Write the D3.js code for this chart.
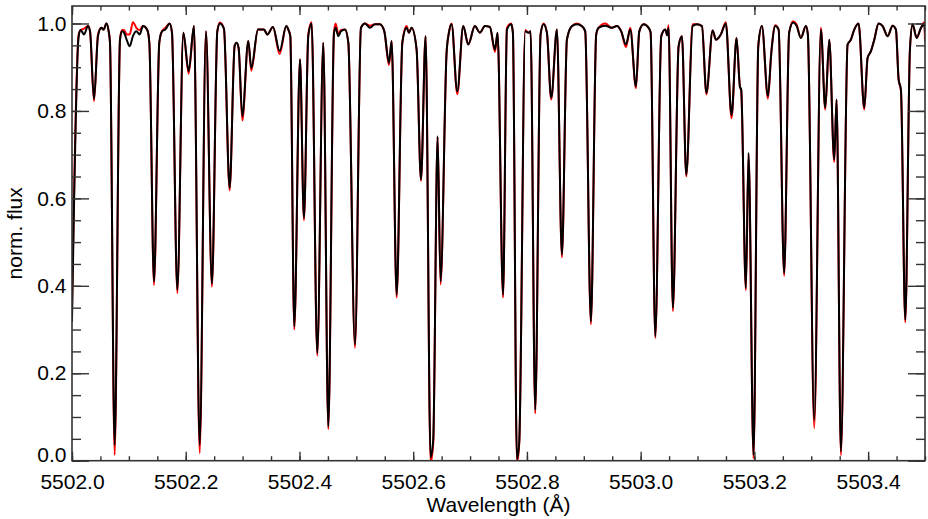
<!DOCTYPE html>
<html>
<head>
<meta charset="utf-8">
<script src="https://cdn.jsdelivr.net/npm/d3@7"></script>
<style>
  body { margin: 0; background: #fff; }
  svg { display: block; font-family: "Liberation Sans", Arial, Helvetica, sans-serif; }
</style>
</head>
<body>
<svg id="chart" width="928" height="519"></svg>
<script>
const wavelength = [
  5502.0000, 5502.0117, 5502.0152, 5502.0211, 5502.0281, 5502.0317, 5502.0387, 5502.0457, 5502.0516, 5502.0557,
  5502.0604, 5502.0645, 5502.0668, 5502.0750, 5502.0844, 5502.0879, 5502.0914, 5502.0961, 5502.1014, 5502.1072,
  5502.1131, 5502.1190, 5502.1248, 5502.1324, 5502.1360, 5502.1442, 5502.1535, 5502.1582, 5502.1641, 5502.1717,
  5502.1758, 5502.1852, 5502.1958, 5502.2051, 5502.2145, 5502.2245, 5502.2356, 5502.2461, 5502.2555, 5502.2602,
  5502.2672, 5502.2772, 5502.2860, 5502.2895, 5502.2930, 5502.2995, 5502.3100, 5502.3153, 5502.3270, 5502.3376,
  5502.3434, 5502.3534, 5502.3651, 5502.3768, 5502.3804, 5502.3839, 5502.3909, 5502.4009, 5502.4079, 5502.4155,
  5502.4214, 5502.4313, 5502.4419, 5502.4507, 5502.4607, 5502.4636, 5502.4683, 5502.4730, 5502.4800, 5502.4859,
  5502.4976, 5502.5081, 5502.5152, 5502.5240, 5502.5327, 5502.5415, 5502.5492, 5502.5574, 5502.5621, 5502.5709,
  5502.5809, 5502.5884, 5502.5925, 5502.5972, 5502.6060, 5502.6137, 5502.6218, 5502.6306, 5502.6352, 5502.6429,
  5502.6481, 5502.6587, 5502.6628, 5502.6675, 5502.6775, 5502.6880, 5502.6968, 5502.7085, 5502.7173, 5502.7261,
  5502.7349, 5502.7437, 5502.7484, 5502.7580, 5502.7648, 5502.7724, 5502.7753, 5502.7824, 5502.7865, 5502.7970,
  5502.8029, 5502.8064, 5502.8146, 5502.8240, 5502.8293, 5502.8351, 5502.8427, 5502.8527, 5502.8615, 5502.8703,
  5502.8791, 5502.8879, 5502.8966, 5502.9025, 5502.9125, 5502.9218, 5502.9259, 5502.9377, 5502.9494, 5502.9582,
  5502.9658, 5502.9741, 5502.9817, 5502.9917, 5502.9976, 5503.0052, 5503.0140, 5503.0175, 5503.0257, 5503.0362,
  5503.0433, 5503.0468, 5503.0491, 5503.0567, 5503.0667, 5503.0726, 5503.0802, 5503.0913, 5503.0990, 5503.1078,
  5503.1156, 5503.1265, 5503.1324, 5503.1410, 5503.1498, 5503.1598, 5503.1686, 5503.1745, 5503.1768, 5503.1850,
  5503.1897, 5503.1985, 5503.2068, 5503.2132, 5503.2238, 5503.2297, 5503.2367, 5503.2426, 5503.2523, 5503.2611,
  5503.2682, 5503.2741, 5503.2817, 5503.2905, 5503.2940, 5503.3052, 5503.3169, 5503.3246, 5503.3316, 5503.3404,
  5503.3445, 5503.3521, 5503.3639, 5503.3697, 5503.3756, 5503.3832, 5503.3932, 5503.3990, 5503.4049, 5503.4108,
  5503.4184, 5503.4255, 5503.4343, 5503.4431, 5503.4489, 5503.4536, 5503.4577, 5503.4653, 5503.4735, 5503.4782,
  5503.4853, 5503.4929, 5503.4988, 5503.5000
];

// observed spectrum (black)
const fluxObs = [
  0.318, 0.970, 0.985, 0.975, 0.994, 0.982, 0.827, 0.971, 0.990, 0.986,
  1.000, 0.982, 0.956, 0.036, 0.963, 0.982, 0.979, 0.963, 0.948, 0.971,
  0.982, 0.975, 0.994, 0.985, 0.956, 0.410, 0.956, 0.982, 0.986, 1.000,
  0.979, 0.391, 0.979, 0.891, 0.994, 0.036, 0.982, 0.405, 0.982, 1.000,
  0.988, 0.624, 0.948, 0.956, 0.944, 0.788, 0.960, 0.898, 0.986, 0.986,
  0.975, 0.992, 0.937, 0.994, 0.986, 0.971, 0.307, 0.918, 0.555, 0.971,
  1.000, 0.246, 0.956, 0.078, 0.979, 0.990, 0.971, 0.982, 0.986, 0.956,
  0.265, 0.990, 1.000, 0.990, 0.998, 0.998, 0.982, 0.910, 0.960, 0.379,
  0.956, 0.990, 0.979, 0.990, 0.940, 0.643, 0.971, 0.008, 0.047, 0.742,
  0.410, 0.933, 0.979, 0.998, 0.845, 0.994, 0.952, 0.994, 0.979, 0.994,
  0.992, 0.940, 0.979, 0.379, 0.986, 0.998, 0.979, 0.004, 0.044, 0.982,
  0.979, 0.982, 0.116, 0.975, 0.998, 0.979, 0.830, 0.986, 0.471, 0.963,
  0.994, 0.998, 0.994, 0.982, 0.318, 0.975, 0.990, 0.995, 0.990, 0.994,
  0.982, 0.952, 0.986, 0.856, 0.982, 0.998, 0.990, 0.979, 0.284, 0.971,
  0.986, 0.973, 0.990, 0.349, 0.948, 0.971, 0.654, 0.994, 0.998, 0.994,
  0.841, 0.984, 0.963, 0.975, 1.000, 0.790, 0.967, 0.856, 0.849, 0.395,
  0.704, 0.013, 0.948, 0.994, 0.834, 0.933, 0.994, 0.986, 0.429, 0.979,
  1.002, 0.995, 0.967, 0.994, 0.975, 0.093, 0.986, 0.807, 0.963, 0.689,
  0.826, 0.021, 0.952, 0.963, 0.986, 1.000, 0.807, 0.921, 0.937, 0.963,
  1.000, 0.994, 0.971, 0.995, 0.986, 0.872, 0.849, 0.322, 0.940, 0.998,
  0.967, 0.990, 0.998, 0.979
];

// synthetic spectrum (red)
const fluxModel = [
  0.345, 0.975, 0.985, 0.988, 0.994, 0.982, 0.822, 0.975, 0.990, 0.986,
  1.000, 0.982, 0.956, 0.013, 0.963, 0.985, 0.985, 0.975, 0.975, 1.003,
  0.990, 0.985, 0.994, 0.985, 0.956, 0.402, 0.956, 0.982, 0.990, 1.000,
  0.979, 0.383, 0.979, 0.885, 0.994, 0.017, 0.982, 0.398, 0.982, 1.002,
  0.988, 0.618, 0.950, 0.956, 0.944, 0.778, 0.960, 0.892, 0.986, 0.986,
  0.975, 0.992, 0.930, 0.994, 0.986, 0.971, 0.300, 0.918, 0.550, 0.975,
  1.003, 0.240, 0.956, 0.072, 0.979, 1.000, 0.975, 0.985, 0.986, 0.956,
  0.258, 0.990, 1.000, 0.995, 0.998, 0.998, 0.982, 0.905, 0.960, 0.373,
  0.956, 0.994, 0.979, 0.990, 0.940, 0.640, 0.971, -0.005, 0.040, 0.740,
  0.403, 0.933, 0.979, 1.000, 0.838, 0.994, 0.952, 0.994, 0.979, 0.994,
  0.992, 0.935, 0.979, 0.373, 0.990, 1.000, 0.979, -0.005, 0.040, 0.985,
  0.979, 0.982, 0.108, 0.975, 1.000, 0.979, 0.826, 0.986, 0.465, 0.963,
  0.994, 1.000, 0.994, 0.982, 0.312, 0.975, 0.990, 1.000, 0.990, 0.994,
  0.982, 0.946, 0.990, 0.852, 0.982, 0.998, 0.990, 0.979, 0.280, 0.971,
  0.986, 0.973, 0.996, 0.342, 0.948, 0.971, 0.650, 0.998, 0.998, 0.994,
  0.838, 0.984, 0.963, 0.975, 1.003, 0.783, 0.967, 0.856, 0.845, 0.390,
  0.700, 0.005, 0.948, 0.994, 0.828, 0.933, 0.996, 0.986, 0.423, 0.979,
  1.005, 0.998, 0.967, 0.994, 0.975, 0.074, 0.990, 0.803, 0.963, 0.683,
  0.826, 0.012, 0.952, 0.963, 0.986, 1.000, 0.803, 0.921, 0.937, 0.963,
  1.000, 0.994, 0.971, 0.995, 0.986, 0.872, 0.845, 0.316, 0.940, 0.998,
  0.967, 0.990, 1.003, 0.960
];

const xMajorTicks = [5502.0, 5502.2, 5502.4, 5502.6, 5502.8, 5503.0, 5503.2, 5503.4];
const yMajorTicks = [0.0, 0.2, 0.4, 0.6, 0.8, 1.0];

const margin = {left: 72, right: 3, top: 6, bottom: 58.3};
const width = 928;
const height = 519;

const svg = d3.select("#chart");

const x = d3.scaleLinear()
    .domain([5502.0, 5503.5])
    .range([margin.left, width - margin.right]);

const y = d3.scaleLinear()
    .domain([0, 1.04])
    .range([height - margin.bottom, margin.top]);

const xMinorTicks = d3.range(0, 31).map(i => 5502 + i * 0.05);
const yMinorTicks = d3.range(0, 21).map(i => i * 0.05);

svg.append("clipPath")
   .attr("id", "plot-clip")
   .append("rect")
   .attr("x", x.range()[0])
   .attr("y", y.range()[1])
   .attr("width", x.range()[1] - x.range()[0])
   .attr("height", y.range()[0] - y.range()[1]);

const spectrum = (flux) => d3.line()
    .x((d, i) => x(wavelength[i]))
    .y((d, i) => y(flux[i]))
    .curve(d3.curveMonotoneX)(wavelength);

const plot = svg.append("g").attr("clip-path", "url(#plot-clip)");

plot.append("path")
    .attr("d", spectrum(fluxModel))
    .attr("fill", "none")
    .attr("stroke", "#ff0000")
    .attr("stroke-width", 2)
    .attr("stroke-linejoin", "round");

plot.append("path")
    .attr("d", spectrum(fluxObs))
    .attr("fill", "none")
    .attr("stroke", "#000")
    .attr("stroke-width", 2)
    .attr("stroke-linejoin", "round");

// axes, IDL style: ticks pointing inward on all four sides
const axisColor = "#333";
const styleAxis = (g) => {
    g.select(".domain").remove();
    g.selectAll("line").attr("stroke", axisColor).attr("stroke-width", 1.4);
    g.selectAll("text")
     .attr("fill", "#000")
     .style("font-size", "21px")
     .style("font-family", "'Liberation Sans', Arial, sans-serif");
};

const bottomY = y.range()[0];
const topY = y.range()[1];
const leftX = x.range()[0];
const rightX = x.range()[1];

svg.append("g")
   .attr("transform", `translate(0,${bottomY})`)
   .call(d3.axisBottom(x).tickValues(xMinorTicks).tickSize(-4.5).tickFormat(""))
   .call(styleAxis);

svg.append("g")
   .attr("transform", `translate(0,${bottomY})`)
   .call(d3.axisBottom(x).tickValues(xMajorTicks).tickSize(-9).tickPadding(13).tickFormat(d3.format(".1f")))
   .call(styleAxis);

svg.append("g")
   .attr("transform", `translate(0,${topY})`)
   .call(d3.axisTop(x).tickValues(xMinorTicks).tickSize(-4.5).tickFormat(""))
   .call(styleAxis);

svg.append("g")
   .attr("transform", `translate(0,${topY})`)
   .call(d3.axisTop(x).tickValues(xMajorTicks).tickSize(-9).tickFormat(""))
   .call(styleAxis);

svg.append("g")
   .attr("transform", `translate(${leftX},0)`)
   .call(d3.axisLeft(y).tickValues(yMinorTicks).tickSize(-9).tickFormat(""))
   .call(styleAxis);

const yAxis = svg.append("g")
   .attr("transform", `translate(${leftX},0)`)
   .call(d3.axisLeft(y).tickValues(yMajorTicks).tickSize(-17).tickPadding(5.5).tickFormat(d3.format(".1f")))
   .call(styleAxis);

// the lowest label sits on the axis line, as in the original
yAxis.selectAll(".tick")
     .filter(d => d === 0)
     .select("text")
     .attr("dy", "0")
     .attr("y", 1);

svg.append("g")
   .attr("transform", `translate(${rightX},0)`)
   .call(d3.axisRight(y).tickValues(yMinorTicks).tickSize(-9).tickFormat(""))
   .call(styleAxis);

svg.append("g")
   .attr("transform", `translate(${rightX},0)`)
   .call(d3.axisRight(y).tickValues(yMajorTicks).tickSize(-17).tickFormat(""))
   .call(styleAxis);

svg.append("rect")
   .attr("x", leftX)
   .attr("y", topY)
   .attr("width", rightX - leftX)
   .attr("height", bottomY - topY)
   .attr("fill", "none")
   .attr("stroke", axisColor)
   .attr("stroke-width", 1.6);

svg.append("text")
   .attr("x", (leftX + rightX) / 2)
   .attr("y", 511.5)
   .attr("text-anchor", "middle")
   .style("font-size", "21px")
   .text("Wavelength (Å)");

svg.append("text")
   .attr("transform", `translate(21.5,${(topY + bottomY) / 2}) rotate(-90)`)
   .attr("text-anchor", "middle")
   .style("font-size", "21px")
   .text("norm. flux");
</script>
</body>
</html>
